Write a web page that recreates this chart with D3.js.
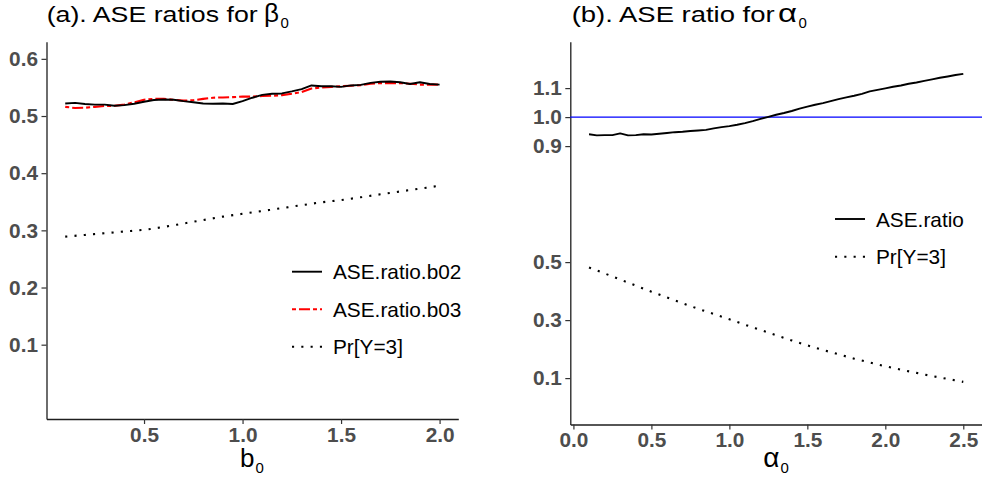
<!DOCTYPE html>
<html>
<head>
<meta charset="utf-8">
<script src="https://cdn.jsdelivr.net/npm/d3@7"></script>
<style>
  html, body { margin: 0; padding: 0; background: #fff; }
  svg { display: block; font-family: "Liberation Sans", Arial, Helvetica, sans-serif; }
</style>
</head>
<body>
<svg id="fig" width="982" height="477"></svg>
<script>
// ---- panel (a): ASE ratios against b0 ----
const b0Grid = [0.10,0.15,0.20,0.25,0.30,0.35,0.40,0.45,0.50,0.55,0.60,0.65,0.70,0.75,0.80,0.85,0.90,0.95,1.00,
                1.05,1.10,1.15,1.20,1.25,1.30,1.35,1.40,1.45,1.50,1.55,1.60,1.65,1.70,1.75,1.80,1.85,1.90,1.95,2.00];
const ratioB02 = [0.522,0.523,0.521,0.520,0.520,0.518,0.519,0.5215,0.525,0.528,0.529,0.5285,0.526,0.524,0.522,0.5215,0.522,0.521,0.526,
                  0.532,0.537,0.539,0.5395,0.543,0.547,0.5535,0.552,0.552,0.551,0.5535,0.5545,0.558,0.560,0.5605,0.559,0.556,0.559,0.556,0.555];
const ratioB03 = [0.516,0.514,0.5145,0.516,0.5175,0.518,0.520,0.524,0.5285,0.530,0.530,0.5285,0.527,0.5275,0.530,0.532,0.5325,0.533,0.534,
                  0.534,0.535,0.5355,0.5365,0.539,0.542,0.548,0.550,0.551,0.552,0.553,0.554,0.5565,0.5575,0.5575,0.5575,0.5565,0.555,0.555,0.555];
const b0Coarse = [0.1,0.2,0.3,0.4,0.5,0.6,0.7,0.8,0.9,1.0,1.1,1.2,1.3,1.4,1.5,1.6,1.7,1.8,1.9,2.0];
const prY3Left = [0.289,0.292,0.295,0.298,0.301,0.306,0.312,0.318,0.324,0.329,0.334,0.339,0.344,0.349,0.353,0.358,0.363,0.368,0.373,0.378];
const leftYTicks = [0.1,0.2,0.3,0.4,0.5,0.6];
const leftXTicks = [0.5,1.0,1.5,2.0];
const leftLegend = ["ASE.ratio.b02","ASE.ratio.b03","Pr[Y=3]"];

// ---- panel (b): ASE ratio against alpha0 ----
const a0Grid = [0.10,0.15,0.20,0.25,0.30,0.35,0.40,0.45,0.50,0.55,0.60,0.65,0.70,0.75,0.80,0.85,0.90,0.95,1.00,
                1.05,1.10,1.15,1.20,1.25,1.30,1.35,1.40,1.45,1.50,1.55,1.60,1.65,1.70,1.75,1.80,1.85,1.90,1.95,2.00,
                2.05,2.10,2.15,2.20,2.25,2.30,2.35,2.40,2.45,2.50];
const aseRatio = [0.941,0.937,0.938,0.938,0.944,0.937,0.938,0.941,0.940,0.9425,0.945,0.948,0.9495,0.952,0.954,0.956,0.961,0.9655,0.969,
                  0.9735,0.979,0.986,0.994,1.001,1.008,1.014,1.021,1.029,1.036,1.0425,1.048,1.055,1.062,1.068,1.0735,1.080,1.0885,1.094,1.099,
                  1.1045,1.109,1.115,1.1195,1.125,1.130,1.1355,1.140,1.145,1.149];
const a0Coarse = [0.1,0.2,0.3,0.4,0.5,0.6,0.7,0.8,0.9,1.0,1.1,1.2,1.3,1.4,1.5,1.6,1.7,1.8,1.9,2.0,2.1,2.2,2.3,2.4,2.5];
const prY3Right = [0.481,0.461,0.440,0.419,0.398,0.378,0.358,0.339,0.321,0.303,0.284,0.266,0.248,0.230,0.213,0.197,0.182,0.167,0.154,0.141,
                   0.129,0.118,0.107,0.097,0.087];
const refLevel = 1.0;
const rightYTicks = [0.1,0.3,0.5,0.9,1.0,1.1];
const rightXTicks = [0.0,0.5,1.0,1.5,2.0,2.5];
const rightLegend = ["ASE.ratio","Pr[Y=3]"];

const svg = d3.select("#fig");

const styles = {
  solid:   {stroke: "#000", width: 1.9, dash: null},
  twodash: {stroke: "#ff0000", width: 2.1, dash: "4 3 11 3"},
  dotted:  {stroke: "#000", width: 2.1, dash: "2.1 7.2"}
};

function styleAxis(g) {
  g.select(".domain").attr("stroke", "#1e1e1e").attr("stroke-width", 1.3);
  g.selectAll(".tick line").attr("stroke", "#333").attr("stroke-width", 1.2);
  g.selectAll(".tick text")
    .attr("fill", "#4d4d4d")
    .attr("font-size", 20.8)
    .attr("font-weight", "bold")
    .attr("font-family", "'Liberation Sans', Arial, sans-serif");
}

function drawSeries(g, xs, ys, x, y, st, curve) {
  const line = d3.line().x(d => x(d[0])).y(d => y(d[1])).curve(curve || d3.curveLinear);
  g.append("path")
    .datum(xs.map((v, i) => [v, ys[i]]))
    .attr("d", line)
    .attr("fill", "none")
    .attr("stroke", st.stroke)
    .attr("stroke-width", st.width)
    .attr("stroke-linejoin", "round")
    .attr("stroke-dasharray", st.dash);
}

function drawLegend(g, labels, kinds, x0, yRows) {
  labels.forEach((lab, i) => {
    const st = styles[kinds[i]];
    g.append("line")
      .attr("x1", x0).attr("x2", x0 + 30)
      .attr("y1", yRows[i]).attr("y2", yRows[i])
      .attr("stroke", st.stroke).attr("stroke-width", st.width)
      .attr("stroke-dasharray", st.dash);
    g.append("text")
      .attr("x", x0 + 41).attr("y", yRows[i] + 7.5)
      .attr("font-size", 20.8).attr("fill", "#000")
      .text(lab);
  });
}

function drawTitle(prefix, prefixLen, greek, greekX, greekLen, x0) {
  svg.append("text").attr("x", x0).attr("y", 22.3)
    .attr("font-size", 22).attr("fill", "#000")
    .attr("textLength", prefixLen).attr("lengthAdjust", "spacingAndGlyphs")
    .text(prefix);
  svg.append("text").attr("x", greekX).attr("y", 22.3)
    .attr("font-size", 25).attr("fill", "#000")
    .attr("textLength", greekLen).attr("lengthAdjust", "spacingAndGlyphs")
    .text(greek);
  svg.append("text").attr("x", greekX + greekLen + 1.5).attr("y", 28.3)
    .attr("font-size", 15).attr("fill", "#000")
    .text("0");
}

function axisTitle(sym, cx, size, subX) {
  svg.append("text").attr("x", cx).attr("y", 467.3)
    .attr("font-size", size).attr("fill", "#000").text(sym);
  svg.append("text").attr("x", subX).attr("y", 473.3)
    .attr("font-size", 15).attr("fill", "#000").text("0");
}

// ---------- panel (a) ----------
{
  const x = d3.scaleLinear().domain([0.005, 2.095]).range([46.5, 458.3]);
  const y = d3.scaleLinear().domain([-0.03, 0.63]).range([419, 41.7]);
  const g = svg.append("g");

  const gx = g.append("g").attr("transform", "translate(0,419)")
    .call(d3.axisBottom(x).tickValues(leftXTicks).tickFormat(d3.format(".1f")).tickSize(5).tickSizeOuter(0).tickPadding(3));
  styleAxis(gx);
  const gy = g.append("g").attr("transform", "translate(46.5,0)")
    .call(d3.axisLeft(y).tickValues(leftYTicks).tickFormat(d3.format(".1f")).tickSize(5).tickSizeOuter(0).tickPadding(3.5));
  styleAxis(gy);

  drawSeries(g, b0Coarse, prY3Left, x, y, styles.dotted, d3.curveMonotoneX);
  drawSeries(g, b0Grid, ratioB03, x, y, styles.twodash);
  drawSeries(g, b0Grid, ratioB02, x, y, styles.solid);

  drawLegend(g, leftLegend, ["solid","twodash","dotted"], 292, [271.7, 309.3, 346.7]);
}

// ---------- panel (b) ----------
{
  const x = d3.scaleLinear().domain([-0.02, 2.62]).range([570.3, 982]);
  const y = d3.scaleLinear().domain([-0.06, 1.26]).range([424.5, 41.7]);
  const g = svg.append("g");

  const gx = g.append("g").attr("transform", "translate(0,424.5)")
    .call(d3.axisBottom(x).tickValues(rightXTicks).tickFormat(d3.format(".1f")).tickSize(5).tickSizeOuter(0).tickPadding(3));
  styleAxis(gx);
  const gy = g.append("g").attr("transform", "translate(570.3,0)")
    .call(d3.axisLeft(y).tickValues(rightYTicks).tickFormat(d3.format(".1f")).tickSize(5).tickSizeOuter(0).tickPadding(3.5));
  styleAxis(gy);

  g.append("line")
    .attr("x1", x.range()[0]).attr("x2", x.range()[1])
    .attr("y1", y(refLevel)).attr("y2", y(refLevel))
    .attr("stroke", "#0000ff").attr("stroke-width", 1.1);

  drawSeries(g, a0Coarse, prY3Right, x, y, styles.dotted, d3.curveMonotoneX);
  drawSeries(g, a0Grid, aseRatio, x, y, styles.solid);

  drawLegend(g, rightLegend, ["solid","dotted"], 835, [219, 256.7]);
}

// ---------- titles ----------
drawTitle("(a). ASE ratios for", 211, "\u03b2", 264, 15, 46.7);
drawTitle("(b). ASE ratio for", 203, "\u03b1", 778, 19, 571.7);
axisTitle("b", 240, 26, 255.5);
axisTitle("\u03b1", 763.3, 28, 780.5);
</script>
</body>
</html>
